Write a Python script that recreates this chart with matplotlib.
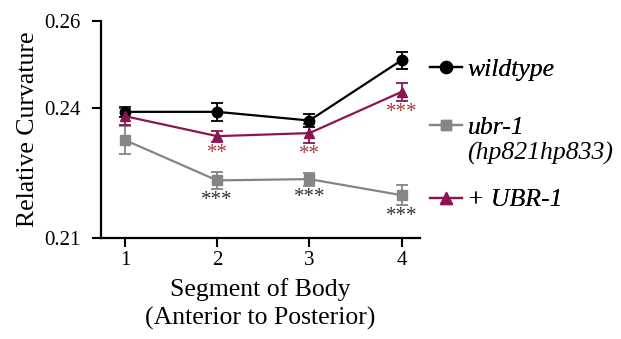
import numpy as np
import matplotlib
matplotlib.use("Agg")
import matplotlib.pyplot as plt

plt.rcParams['font.family'] = ['Liberation Serif', 'DejaVu Serif']

# body segments, anterior to posterior
segments = [1, 2, 3, 4]

# mean relative curvature and SEM per strain
wildtype = [0.2390, 0.2390, 0.2370, 0.2509]
wildtype_err = [0.0012, 0.0020, 0.0014, 0.0020]

ubr1 = [0.2325, 0.2232, 0.2235, 0.2198]
ubr1_err = [0.0032, 0.0020, 0.0015, 0.0023]

rescue = [0.2380, 0.2334, 0.2341, 0.2436]
rescue_err = [0.0020, 0.0013, 0.0022, 0.0020]

# significance marks (empty = not significant)
ubr1_sig = ['', '***', '***', '***']
rescue_sig = ['', '**', '**', '***']

yticks = [0.21, 0.24, 0.26]

maroon = '#8b1550'
star_red = '#a83a3a'
grey = '#858585'

W, H = 621, 339
fig = plt.figure(figsize=(W / 100, H / 100), dpi=100)
ax = fig.add_axes([101 / W, 1 - 237.7 / H, 319 / W, 217 / H])

series = [
    (wildtype, wildtype_err, 'black', 'o', 7.5),
    (ubr1, ubr1_err, grey, 's', 6.5),
    (rescue, rescue_err, maroon, '^', 7),
]

handles = []
for vals, errs, col, mk, ms in series:
    ax.errorbar(segments, vals, yerr=errs, fmt='none', ecolor=col,
                elinewidth=1.3, capsize=4, capthick=1.3, zorder=2)
    ln, = ax.plot(segments, vals, color=col, marker=mk, markersize=ms,
                  linewidth=1.6, zorder=3)
    handles.append(ln)

# asterisks under the error bars
for vals, errs, marks, col in [(ubr1, ubr1_err, ubr1_sig, '#333333'),
                               (rescue, rescue_err, rescue_sig, star_red)]:
    for x, v, e, m in zip(segments, vals, errs, marks):
        if m:
            ax.annotate(m, (x, v - e), xytext=(0, -8.5), textcoords='offset points',
                        ha='center', va='center', fontsize=15, color=col)

ax.set_xlim(0.74, 4.2)
ax.set_ylim(0.21, 0.26)
ax.set_xticks(segments)
ax.set_yticks(yticks)
ax.set_yticklabels([f'{t:.2f}' for t in yticks])
ax.tick_params(labelsize=15, width=1.5, length=6.5, direction='out')
ax.tick_params(axis='y', pad=8)
ax.tick_params(axis='x', pad=3)

for side in ['top', 'right']:
    ax.spines[side].set_visible(False)
for side in ['left', 'bottom']:
    ax.spines[side].set_linewidth(1.6)

ax.set_ylabel('Relative Curvature', fontsize=18.5, labelpad=4)
ax.set_xlabel('Segment of Body\n(Anterior to Posterior)', fontsize=18.5, labelpad=6,
              linespacing=1.35)

# key, one entry per strain, stacked at the right of the plot
key_font = {'style': 'italic', 'size': 18.5}
entries = [(handles[0], 'wildtype', 70),
           (handles[1], 'ubr-1', 128),
           (handles[2], '+ UBR-1', 200)]
for h, lab, ypx in entries:
    lg = fig.legend([h], [lab], loc='center left',
                    bbox_to_anchor=(430 / W, 1 - ypx / H),
                    bbox_transform=fig.transFigure, frameon=False,
                    borderpad=0, borderaxespad=0, handlelength=1.25,
                    handletextpad=0.2, prop=key_font, markerscale=1.15)
    fig.add_artist(lg)
fig.text(467 / W, 1 - 153 / H, '(hp821hp833)', ha='left', va='center',
         fontsize=18.5, style='italic')

fig.savefig('out.png', dpi=100)
